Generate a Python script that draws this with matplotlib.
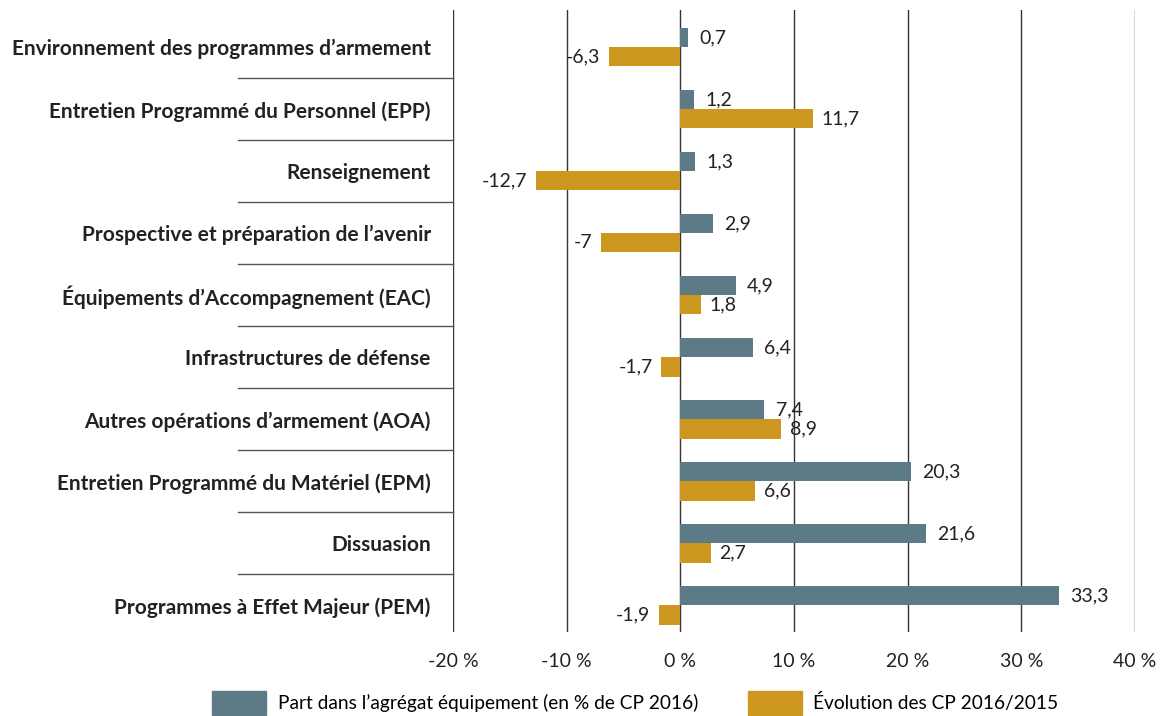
import matplotlib.pyplot as plt
import numpy as np
from matplotlib.patches import Patch

plt.rcParams['font.family'] = ['Lato', 'DejaVu Sans']

categories = [
    "Environnement des programmes d\u2019armement",
    "Entretien Programmé du Personnel (EPP)",
    "Renseignement",
    "Prospective et préparation de l\u2019avenir",
    "Équipements d\u2019Accompagnement (EAC)",
    "Infrastructures de défense",
    "Autres opérations d\u2019armement (AOA)",
    "Entretien Programmé du Matériel (EPM)",
    "Dissuasion",
    "Programmes à Effet Majeur (PEM)",
]
part = [0.7, 1.2, 1.3, 2.9, 4.9, 6.4, 7.4, 20.3, 21.6, 33.3]
evolution = [-6.3, 11.7, -12.7, -7.0, 1.8, -1.7, 8.9, 6.6, 2.7, -1.9]
series_labels = ["Part dans l\u2019agrégat équipement (en % de CP 2016)",
                 "Évolution des CP 2016/2015"]
xticks = [-20, -10, 0, 10, 20, 30, 40]

gray = "#5d7a87"
gold = "#cd971f"

fig = plt.figure(figsize=(11.7, 7.16), dpi=100)
ax = fig.add_axes([453 / 1170, 1 - 632 / 716, 682 / 1170, 622 / 716])

y = np.arange(len(categories))
h = 0.31
ax.barh(y - h / 2, part, height=h, color=gray, zorder=3)
ax.barh(y + h / 2, evolution, height=h, color=gold, zorder=3)

def fmt(v):
    if float(v).is_integer():
        return "%d" % v
    return ("%.1f" % v).replace(".", ",")

for yi, v in zip(y - h / 2, part):
    ax.annotate(fmt(v), (v, yi), xytext=(8 if v >= 0 else -8, 0), textcoords="offset points",
                ha="left" if v >= 0 else "right", va="center", fontsize=14, color="#222222")
for yi, v in zip(y + h / 2, evolution):
    ax.annotate(fmt(v), (v, yi), xytext=(6 if v >= 0 else -6, 0), textcoords="offset points",
                ha="left" if v >= 0 else "right", va="center", fontsize=14, color="#222222")

ax.set_xlim(-20, 40)
ax.set_ylim(9.43, -0.6)
ax.set_xticks(xticks)
ax.set_xticklabels(["%d %%" % t for t in xticks], fontsize=14, color="#222222")
ax.set_yticks(y)
ax.set_yticklabels(categories, fontsize=15, fontweight="bold", color="#222222")
ax.tick_params(axis="both", length=0)
ax.tick_params(axis="y", pad=16)
ax.tick_params(axis="x", pad=15)
for s in ax.spines.values():
    s.set_visible(False)
for t in xticks:
    ax.axvline(t, color="#333333", lw=1, zorder=1)

# separators between category labels
trans = ax.get_yaxis_transform()
for i in range(len(categories) - 1):
    ax.plot([-0.315, 0], [i + 0.5, i + 0.5], transform=trans, color="#555555",
            lw=1, clip_on=False)

handles = [Patch(color=gray), Patch(color=gold)]
fig.legend(handles, series_labels, loc="lower center", bbox_to_anchor=(0.543, -0.022),
           ncol=2, frameon=False, fontsize=13.8, handlelength=2.8, handleheight=1.5,
           columnspacing=2.6, handletextpad=0.6)

fig.savefig("out.png", dpi=100)
